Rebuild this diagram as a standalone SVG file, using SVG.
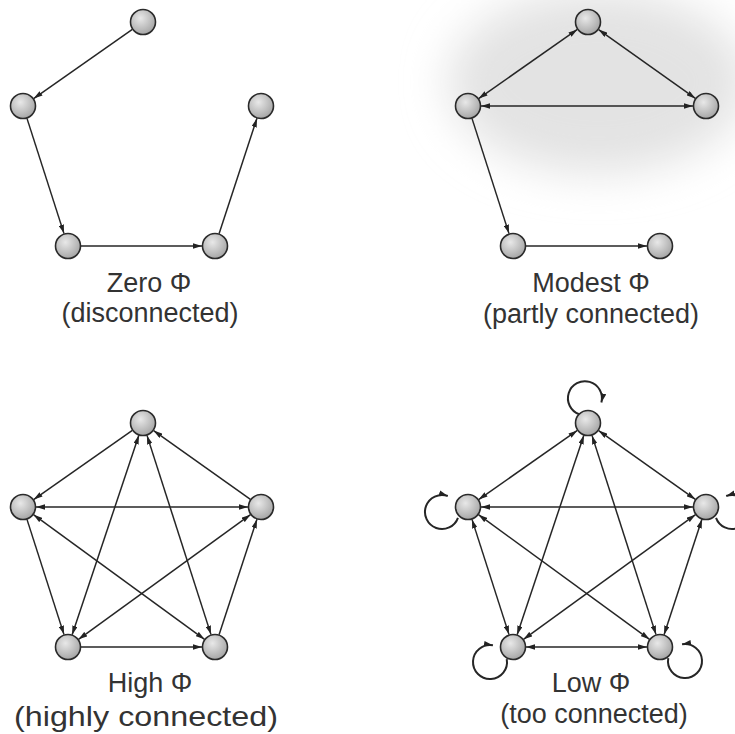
<svg xmlns="http://www.w3.org/2000/svg" width="735" height="734" viewBox="0 0 735 734">
<defs>
<radialGradient id="ng" cx="0.4" cy="0.35" r="0.7">
<stop offset="0" stop-color="#e8e8e8"/>
<stop offset="1" stop-color="#a2a2a2"/>
</radialGradient>
<filter id="blur" x="-50%" y="-50%" width="200%" height="200%">
<feGaussianBlur stdDeviation="22"/>
</filter>
<marker id="ah" viewBox="0 0 10 6" refX="10" refY="3" markerWidth="9" markerHeight="5.4" markerUnits="userSpaceOnUse" orient="auto-start-reverse">
<path d="M0,0 L10,3 L0,6 z" fill="#222"/>
</marker>
<style>
.node{fill:url(#ng);stroke:#2a2a2a;stroke-width:1.6}
.e{fill:none;stroke:#262626;stroke-width:1.5}
.loop{fill:none;stroke:#262626;stroke-width:2}
.one{marker-end:url(#ah)}
.two{marker-start:url(#ah);marker-end:url(#ah)}
.lbl{font-family:"Liberation Sans",Arial,sans-serif;font-size:27px;fill:#333;text-anchor:middle}
</style>
</defs>
<rect width="735" height="734" fill="#ffffff"/>
<ellipse cx="598" cy="82" rx="150" ry="92" fill="#e3e3e3" filter="url(#blur)"/>

<!-- Panel 1: Zero Phi -->
<g id="panel-zero">
<g id="p1-connectors">
<path class="e one" d="M132.35,29.46 L33.65,98.54"/>
<path class="e one" d="M26.98,118.38 L64.02,233.62"/>
<path class="e one" d="M81,246 L202,246"/>
<path class="e one" d="M219.06,233.65 L256.94,118.35"/>
</g>
<g id="p1-n1"><circle class="node" cx="143" cy="22" r="12.5"/></g>
<g id="p1-n2"><circle class="node" cx="23" cy="106" r="12.5"/></g>
<g id="p1-n3"><circle class="node" cx="261" cy="106" r="12.5"/></g>
<g id="p1-n4"><circle class="node" cx="68" cy="246" r="12.5"/></g>
<g id="p1-n5"><circle class="node" cx="215" cy="246" r="12.5"/></g>
<text class="lbl" x="149" y="292">Zero Φ</text>
<text class="lbl" x="150" y="322">(disconnected)</text>
</g>

<!-- Panel 2: Modest Phi -->
<g id="panel-modest" transform="translate(445,0)">
<g id="p2-connectors">
<path class="e two" d="M132.35,29.46 L33.65,98.54"/>
<path class="e two" d="M153.59,29.54 L250.41,98.46"/>
<path class="e two" d="M36,106 L248,106"/>
<path class="e one" d="M26.98,118.38 L64.02,233.62"/>
<path class="e one" d="M81,246 L202,246"/>
</g>
<g id="p2-n1"><circle class="node" cx="143" cy="22" r="12.5"/></g>
<g id="p2-n2"><circle class="node" cx="23" cy="106" r="12.5"/></g>
<g id="p2-n3"><circle class="node" cx="261" cy="106" r="12.5"/></g>
<g id="p2-n4"><circle class="node" cx="68" cy="246" r="12.5"/></g>
<g id="p2-n5"><circle class="node" cx="215" cy="246" r="12.5"/></g>
<text class="lbl" x="146" y="292">Modest Φ</text>
<text class="lbl" x="146" y="323">(partly connected)</text>
</g>

<!-- Panel 3: High Phi -->
<g id="panel-high" transform="translate(0,401)">
<g id="p3-connectors">
<path class="e one" d="M132.35,29.46 L33.65,98.54"/>
<path class="e one" d="M250.41,98.46 L153.59,29.54"/>
<path class="e two" d="M36,106 L248,106"/>
<path class="e one" d="M26.98,118.38 L64.02,233.62"/>
<path class="e one" d="M81,246 L202,246"/>
<path class="e one" d="M219.06,233.65 L256.94,118.35"/>
<path class="e two" d="M138.87,34.33 L72.13,233.67"/>
<path class="e two" d="M146.98,34.38 L211.02,233.62"/>
<path class="e two" d="M33.5,113.66 L204.5,238.34"/>
<path class="e two" d="M250.48,113.63 L78.52,238.37"/>
</g>
<g id="p3-n1"><circle class="node" cx="143" cy="22" r="12.5"/></g>
<g id="p3-n2"><circle class="node" cx="23" cy="106" r="12.5"/></g>
<g id="p3-n3"><circle class="node" cx="261" cy="106" r="12.5"/></g>
<g id="p3-n4"><circle class="node" cx="68" cy="246" r="12.5"/></g>
<g id="p3-n5"><circle class="node" cx="215" cy="246" r="12.5"/></g>
<text class="lbl" x="150" y="291">High Φ</text>
<text class="lbl" x="146" y="325" style="font-size:28px" textLength="264" lengthAdjust="spacingAndGlyphs">(highly connected)</text>
</g>

<!-- Panel 4: Low Phi -->
<g id="panel-low" transform="translate(445,401)">
<g id="p4-connectors">
<path class="e two" d="M132.35,29.46 L33.65,98.54"/>
<path class="e two" d="M153.59,29.54 L250.41,98.46"/>
<path class="e two" d="M36,106 L248,106"/>
<path class="e two" d="M26.98,118.38 L64.02,233.62"/>
<path class="e two" d="M81,246 L202,246"/>
<path class="e two" d="M219.06,233.65 L256.94,118.35"/>
<path class="e two" d="M138.87,34.33 L72.13,233.67"/>
<path class="e two" d="M146.98,34.38 L211.02,233.62"/>
<path class="e two" d="M33.5,113.66 L204.5,238.34"/>
<path class="e two" d="M250.48,113.63 L78.52,238.37"/>
<path class="loop one" d="M134.2,13.2 A17,17 0 1 1 156.4,1.4"/>
<path class="loop one" d="M12.97,116.81 A17,17 0 1 1 2.81,95.03"/>
<path class="loop one" d="M271.03,116.81 A17,17 0 1 0 281.19,95.03"/>
<path class="loop one" d="M61.74,258.05 A17,17 0 1 1 47.95,244.26"/>
<path class="loop one" d="M223.26,257.05 A17,17 0 1 0 237.05,243.26"/>
</g>
<g id="p4-n1"><circle class="node" cx="143" cy="22" r="12.5"/></g>
<g id="p4-n2"><circle class="node" cx="23" cy="106" r="12.5"/></g>
<g id="p4-n3"><circle class="node" cx="261" cy="106" r="12.5"/></g>
<g id="p4-n4"><circle class="node" cx="68" cy="246" r="12.5"/></g>
<g id="p4-n5"><circle class="node" cx="215" cy="246" r="12.5"/></g>
<text class="lbl" x="146" y="291">Low Φ</text>
<text class="lbl" x="149" y="322">(too connected)</text>
</g>
</svg>
